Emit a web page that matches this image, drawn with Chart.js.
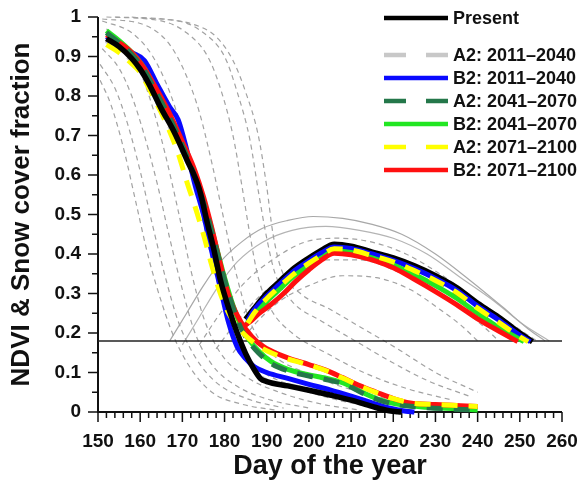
<!DOCTYPE html>
<html>
<head>
<meta charset="utf-8">
<script src="https://cdn.jsdelivr.net/npm/chart.js@4.4.0/dist/chart.umd.min.js"></script>
<style>
  html, body { margin: 0; padding: 0; background: #fff; }
  #wrap { width: 577px; height: 484px; }
</style>
</head>
<body>
<div id="wrap"><canvas id="chart" width="577" height="484"></canvas></div>
<script>
const FONT = "'Liberation Sans', Arial, sans-serif";

// snow cover (falling) and NDVI (rising then falling), [day, value]
const presentSnow = [[152,0.945],[155,0.925],[158,0.895],[160,0.868],[162,0.832],[165,0.768],[168,0.71],[171,0.64],[174,0.565],[176,0.475],[177.5,0.41],[179,0.335],[181,0.262],[183,0.2],[185,0.148],[187,0.108],[188.5,0.085],[190,0.077],[195,0.066],[200,0.055],[205,0.043],[210,0.03],[215,0.014],[219,0.003],[222,0]];
const presentNdvi = [[185,0.235],[187,0.262],[190,0.3],[193,0.33],[196,0.36],[200,0.39],[203,0.41],[206,0.425],[210,0.42],[215,0.405],[220,0.39],[225,0.37],[230,0.345],[235,0.315],[240,0.275],[245,0.24],[250,0.2],[253,0.178]];

const a2e_Snow = [[152,0.94],[156,0.91],[160,0.865],[165,0.765],[170,0.66],[174,0.56],[177,0.43],[180,0.3],[183,0.2],[186,0.125],[189,0.085],[195,0.068],[205,0.045],[215,0.016],[221,0]];
const a2e_Ndvi = [[185,0.235],[190,0.297],[196,0.357],[200,0.387],[206,0.422],[210,0.418],[220,0.387],[230,0.342],[240,0.272],[250,0.197],[253,0.176]];

const b2e_Snow = [[152,0.95],[155,0.93],[158,0.91],[161,0.89],[164,0.83],[167,0.772],[169,0.74],[171,0.665],[173,0.575],[175,0.5],[177,0.405],[179,0.315],[181,0.225],[183,0.165],[185,0.135],[187,0.115],[190,0.1],[195,0.085],[200,0.07],[205,0.056],[210,0.04],[215,0.023],[219,0.01],[223,0.002],[225,0]];
const b2e_Ndvi = [[185.5,0.232],[187,0.258],[190,0.293],[193,0.323],[196,0.353],[200,0.383],[203,0.403],[206,0.418],[210,0.414],[215,0.4],[220,0.384],[225,0.363],[230,0.338],[235,0.308],[240,0.268],[245,0.233],[250,0.194],[252.5,0.178]];

const a2m_Snow = [[152,0.96],[155,0.935],[158,0.905],[161,0.865],[164,0.805],[167,0.745],[170,0.675],[173,0.595],[176,0.495],[178,0.415],[180,0.335],[182,0.265],[184,0.21],[186,0.175],[188,0.15],[191,0.123],[195,0.104],[200,0.091],[205,0.08],[209,0.068],[213,0.046],[217,0.029],[222,0.017],[228,0.011],[235,0.007],[240,0.005]];
const a2m_Ndvi = [[185.5,0.228],[187,0.254],[190,0.289],[193,0.319],[196,0.349],[200,0.379],[203,0.399],[206,0.414],[210,0.41],[215,0.396],[220,0.379],[225,0.357],[230,0.331],[235,0.3],[240,0.261],[245,0.226],[251,0.18]];

const b2m_Snow = [[152,0.965],[155,0.94],[158,0.91],[161,0.87],[164,0.81],[167,0.75],[170,0.68],[173,0.6],[176,0.5],[178,0.42],[180,0.34],[182,0.27],[184,0.215],[186,0.18],[188,0.155],[191,0.128],[195,0.108],[200,0.094],[205,0.083],[209,0.07],[213,0.048],[217,0.03],[222,0.018],[228,0.012],[235,0.008],[240,0.005]];
const b2m_Ndvi = [[185,0.22],[187,0.245],[190,0.28],[193,0.31],[196,0.34],[200,0.37],[203,0.39],[206,0.407],[210,0.404],[215,0.39],[220,0.372],[225,0.348],[230,0.32],[235,0.288],[240,0.25],[245,0.214],[251,0.178]];

const a2l_Snow = [[152,0.93],[155,0.91],[158,0.882],[160,0.86],[163,0.8],[166,0.735],[169,0.655],[171,0.585],[173,0.52],[175,0.45],[177,0.37],[179,0.3],[181,0.25],[183.5,0.21],[187,0.175],[190,0.155],[194,0.138],[199,0.122],[204,0.105],[208,0.086],[212,0.066],[216,0.049],[220,0.034],[224,0.023],[230,0.019],[236,0.016],[240,0.014]];
const a2l_Ndvi = [[185.5,0.225],[187,0.25],[190,0.287],[193,0.317],[196,0.346],[200,0.377],[203,0.397],[206,0.413],[210,0.41],[215,0.396],[220,0.38],[225,0.358],[230,0.333],[235,0.303],[240,0.263],[245,0.227],[250,0.19],[252,0.178]];

const b2l_Snow = [[152,0.955],[155,0.935],[158,0.91],[161,0.87],[164,0.815],[167,0.755],[170,0.685],[173,0.61],[175,0.545],[177,0.465],[179,0.375],[181,0.295],[183,0.245],[185,0.21],[188,0.175],[191,0.155],[195,0.137],[200,0.12],[204,0.106],[208,0.087],[212,0.067],[216,0.05],[220,0.034],[224,0.023],[230,0.019],[236,0.016],[240,0.014]];
const b2l_Ndvi = [[184,0.213],[186,0.228],[188,0.248],[191,0.272],[194,0.3],[197,0.332],[200,0.36],[203,0.385],[206,0.402],[210,0.398],[215,0.385],[220,0.365],[225,0.336],[230,0.305],[235,0.272],[240,0.236],[245,0.205],[249.5,0.178]];

// individual runs in the background
const runSnow1 = [[150.5,0.84],[153,0.78],[156,0.67],[159,0.53],[162,0.39],[165,0.28],[168,0.19],[172,0.11],[177,0.05],[184,0.02],[192,0.005]];
const runSnow2 = [[150.5,0.88],[154,0.82],[157,0.73],[160,0.61],[163,0.47],[166,0.34],[169,0.23],[173,0.14],[178,0.075],[185,0.035],[194,0.01]];
const runSnow3 = [[151,0.92],[155,0.87],[158,0.8],[161,0.7],[164,0.58],[167,0.44],[170,0.31],[173,0.2],[177,0.12],[183,0.065],[191,0.03],[200,0.01]];
const runSnow4 = [[152,0.97],[156,0.93],[160,0.86],[163,0.77],[166,0.65],[169,0.51],[172,0.36],[175,0.24],[179,0.15],[185,0.09],[193,0.05],[203,0.02],[212,0.005]];
const runSnow5 = [[151,0.99],[158,0.96],[163,0.9],[167,0.81],[170,0.71],[173,0.58],[176,0.43],[179,0.3],[182,0.2],[187,0.12],[195,0.07],[205,0.035],[216,0.01]];
const runSnow6 = [[151,0.995],[161,0.98],[167,0.93],[171,0.85],[174,0.76],[177,0.63],[180,0.48],[183,0.34],[186,0.23],[191,0.15],[199,0.1],[209,0.06],[220,0.03],[230,0.01]];
const runSnow7 = [[152,1.0],[165,0.99],[171,0.96],[176,0.9],[179,0.82],[182,0.7],[184,0.58],[186,0.45],[188,0.34],[191,0.26],[196,0.2],[204,0.15],[213,0.1],[223,0.06],[234,0.03]];
const runSnow8 = [[154,1.0],[169,0.99],[175,0.96],[180,0.9],[183,0.81],[186,0.69],[188,0.56],[190,0.44],[192,0.35],[196,0.28],[203,0.23],[211,0.18],[219,0.13],[228,0.08],[238,0.04]];
const runSnow9 = [[158,1.0],[173,0.98],[178,0.95],[182,0.89],[185,0.81],[188,0.7],[190,0.57],[191.5,0.45],[193.5,0.36],[198,0.3],[205,0.26],[213,0.21],[221,0.16],[230,0.1],[240,0.05]];
const runNdvi1 = [[167,0.18],[171,0.25],[175,0.32],[179,0.38],[184,0.43],[189,0.465],[195,0.485],[201,0.495],[208,0.49],[215,0.475],[222,0.45],[230,0.4],[238,0.335],[246,0.265],[252,0.21],[256,0.18]];
const runNdvi2 = [[170,0.17],[174,0.24],[178,0.31],[183,0.38],[189,0.43],[196,0.46],[204,0.47],[212,0.46],[220,0.44],[228,0.4],[236,0.34],[244,0.28],[251,0.22],[257,0.18]];
const runNdvi3 = [[174,0.17],[179,0.25],[185,0.33],[192,0.39],[199,0.43],[207,0.44],[215,0.43],[223,0.4],[231,0.35],[239,0.29],[247,0.23],[254,0.18]];
const runNdvi4 = [[178,0.16],[183,0.23],[189,0.3],[196,0.35],[204,0.385],[212,0.385],[220,0.36],[228,0.32],[235,0.27],[241,0.22],[245,0.18]];
const runNdvi5 = [[182,0.15],[187,0.22],[193,0.28],[200,0.32],[208,0.345],[216,0.34],[224,0.31],[231,0.26],[236,0.22],[240,0.18]];

const threshold = 0.18;
const dayRange = [150, 260];

const legendLabels = ["Present", "A2: 2011\u20132040", "B2: 2011\u20132040", "A2: 2041\u20132070", "B2: 2041\u20132070", "A2: 2071\u20132100", "B2: 2071\u20132100"];
const legendColors = ["#000000", "#c8c8c8", "#0a0aff", "#24774a", "#22e622", "#ffff00", "#ff1010"];
const legendDashed = [false, true, false, true, false, true, false];

const pts = arr => arr.map(([x, y]) => ({ x, y }));

function curve(data, color, order, opts = {}) {
  return Object.assign({
    data: pts(data),
    borderColor: color,
    borderWidth: 5,
    pointRadius: 0,
    fill: false,
    cubicInterpolationMode: "monotone",
    borderJoinStyle: "round",
    clip: false,
    order
  }, opts);
}

const DASH = [16, 11];
const RUN = { borderWidth: 1.2, borderDash: [5, 4] };

const runs = [runSnow1, runSnow2, runSnow3, runSnow4, runSnow5, runSnow6, runSnow7, runSnow8, runSnow9, runNdvi3, runNdvi4, runNdvi5]
  .map(r => curve(r, "#a2a2a2", 40, RUN));
runs.push(curve(runNdvi1, "#a8a8a8", 40, { borderWidth: 1.2 }));
runs.push(curve(runNdvi2, "#b4b4b4", 40, { borderWidth: 1.2 }));

const datasets = [
  curve(presentSnow, legendColors[0], 1, { borderWidth: 5.5 }),
  curve(a2l_Ndvi, legendColors[5], 2, { borderDash: DASH }),
  curve(a2l_Snow, legendColors[5], 3, { borderDash: DASH }),
  curve(a2m_Snow, legendColors[3], 4, { borderDash: DASH }),
  curve(b2l_Snow, legendColors[6], 5),
  curve(b2l_Ndvi, legendColors[6], 6),
  curve(b2m_Snow, legendColors[4], 7),
  curve(b2m_Ndvi, legendColors[4], 8),
  curve(b2e_Snow, legendColors[2], 9),
  curve(b2e_Ndvi, legendColors[2], 10),
  curve(a2m_Ndvi, legendColors[3], 11, { borderDash: DASH }),
  curve(presentNdvi, legendColors[0], 12, { borderWidth: 5.5 }),
  curve(a2e_Snow, legendColors[1], 13, { borderDash: DASH }),
  curve(a2e_Ndvi, legendColors[1], 13, { borderDash: DASH }),
  curve([[dayRange[0], threshold], [dayRange[1], threshold]], "#222", 20, { borderWidth: 1.5, cubicInterpolationMode: "default", tension: 0 }),
  ...runs
];

// axis lines with major / minor tick marks
const axisPlugin = {
  id: "axisTicks",
  beforeDatasetsDraw(chart) {
    const { ctx, scales: { x, y } } = chart;
    const x0 = x.getPixelForValue(dayRange[0]), x1 = x.getPixelForValue(dayRange[1]);
    const y0 = y.getPixelForValue(0), y1 = y.getPixelForValue(1);
    ctx.save();
    ctx.strokeStyle = "#111";
    ctx.lineWidth = 2;
    ctx.beginPath();
    ctx.moveTo(x0, y1); ctx.lineTo(x0, y0); ctx.lineTo(x1, y0);
    ctx.stroke();
    ctx.lineWidth = 1.5;
    ctx.beginPath();
    for (let d = dayRange[0]; d <= dayRange[1]; d += 2) {
      const px = x.getPixelForValue(d);
      const len = d % 10 === 0 ? 10 : 6;
      ctx.moveTo(px, y0); ctx.lineTo(px, y0 + len);
    }
    for (let i = 0; i <= 20; i++) {
      const py = y.getPixelForValue(i * 0.05);
      const len = i % 2 === 0 ? 10 : 6;
      ctx.moveTo(x0, py); ctx.lineTo(x0 - len, py);
    }
    ctx.stroke();
    ctx.restore();
  }
};

const legendPlugin = {
  id: "scenarioLegend",
  afterDraw(chart) {
    const { ctx } = chart;
    const rows = [18, 55, 78, 101, 124, 147, 170];
    ctx.save();
    ctx.font = `bold 18px ${FONT}`;
    ctx.textBaseline = "middle";
    ctx.fillStyle = "#111";
    legendLabels.forEach((label, i) => {
      ctx.beginPath();
      ctx.strokeStyle = legendColors[i];
      ctx.lineWidth = 4.5;
      ctx.setLineDash(legendDashed[i] ? [22, 20] : []);
      ctx.moveTo(384, rows[i]);
      ctx.lineTo(448, rows[i]);
      ctx.stroke();
      ctx.fillText(label, 453, rows[i] + 1);
    });
    ctx.restore();
  }
};

new Chart(document.getElementById("chart"), {
  type: "line",
  data: { datasets },
  options: {
    responsive: false,
    devicePixelRatio: 1,
    animation: false,
    layout: { padding: { left: 0, right: 15, top: 17, bottom: 0 } },
    plugins: { legend: { display: false }, tooltip: { enabled: false } },
    scales: {
      x: {
        type: "linear",
        min: dayRange[0],
        max: dayRange[1],
        grid: { display: false, drawTicks: false },
        border: { display: false },
        ticks: { stepSize: 10, padding: 18, color: "#111", font: { family: FONT, size: 19, weight: "bold" } },
        title: { display: true, text: "Day of the year", color: "#111", padding: { top: 0, bottom: 1 }, font: { family: FONT, size: 27, weight: "bold" } },
        afterFit(s) { s.height = 72; s.paddingLeft = 0; s.paddingRight = 0; }
      },
      y: {
        min: 0,
        max: 1,
        grid: { display: false, drawTicks: false },
        border: { display: false },
        ticks: { stepSize: 0.1, padding: 17, color: "#111", font: { family: FONT, size: 19, weight: "bold" }, callback: v => String(Math.round(v * 10) / 10) },
        title: { display: true, text: "NDVI & Snow cover fraction", color: "#111", padding: { top: 6, bottom: 0 }, font: { family: FONT, size: 26, weight: "bold" } },
        afterFit(s) { s.width = 98; s.paddingTop = 0; s.paddingBottom = 0; }
      }
    }
  },
  plugins: [axisPlugin, legendPlugin]
});
</script>
</body>
</html>
